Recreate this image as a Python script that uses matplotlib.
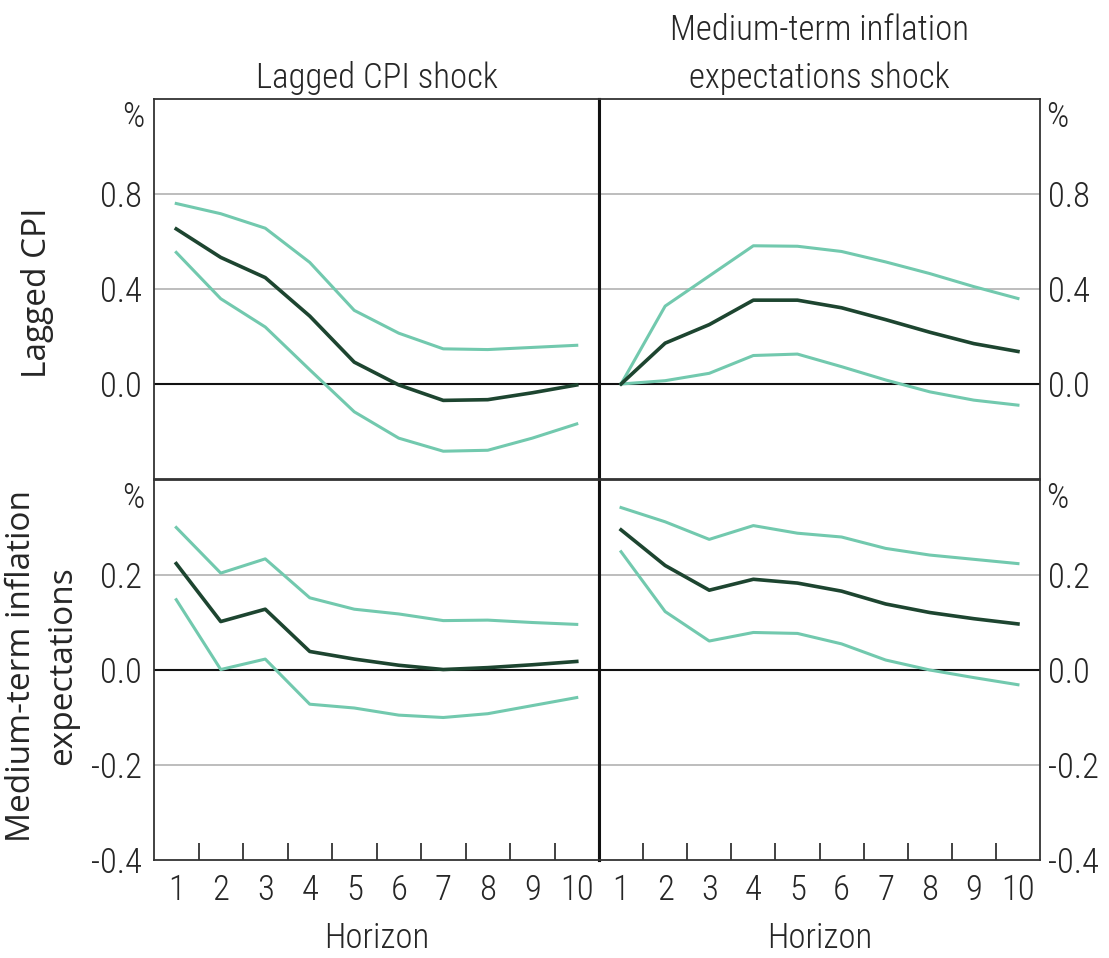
import matplotlib
matplotlib.use("Agg")
import matplotlib.pyplot as plt
from matplotlib import font_manager as fm

entries = fm.fontManager.ttflist
names = {f.name for f in entries}
cands = ["Roboto Condensed", "Open Sans Condensed", "Liberation Sans Narrow",
         "DejaVu Sans Condensed", "Noto Sans Condensed", "Noto Sans Display Condensed"]
FAM = None
STRETCH = "normal"
for n in cands:
    if n in names:
        FAM = n
        break
if FAM is None:
    cond = [f for f in entries if str(f.stretch) in ("condensed", "semi-condensed", "extra-condensed")
            or (isinstance(f.stretch, int) and f.stretch < 500)]
    if cond:
        FAM = cond[0].name
        STRETCH = "condensed"
    else:
        FAM = "DejaVu Sans"
plt.rcParams['font.family'] = [FAM, "DejaVu Sans"]
plt.rcParams['font.stretch'] = STRETCH
WIDE = [n for n in ["Open Sans", "Lato", "DejaVu Sans"] if n in names][:1] + ["DejaVu Sans"]

horizon = [1, 2, 3, 4, 5, 6, 7, 8, 9, 10]

# Lagged CPI response to lagged CPI shock
cpi_cpi_mid = [0.653, 0.533, 0.448, 0.286, 0.092, -0.004, -0.069, -0.066, -0.037, -0.004]
cpi_cpi_hi = [0.760, 0.717, 0.656, 0.512, 0.310, 0.214, 0.148, 0.145, 0.154, 0.163]
cpi_cpi_lo = [0.554, 0.359, 0.240, 0.060, -0.117, -0.228, -0.283, -0.279, -0.228, -0.168]

# Lagged CPI response to medium-term inflation expectations shock
cpi_exp_mid = [0.0, 0.172, 0.250, 0.353, 0.353, 0.321, 0.271, 0.218, 0.170, 0.137]
cpi_exp_hi = [0.0, 0.328, 0.455, 0.582, 0.580, 0.558, 0.514, 0.465, 0.410, 0.360]
cpi_exp_lo = [0.0, 0.014, 0.045, 0.120, 0.126, 0.073, 0.017, -0.033, -0.068, -0.089]

# Medium-term inflation expectations response to lagged CPI shock
exp_cpi_mid = [0.224, 0.102, 0.128, 0.039, 0.023, 0.010, 0.001, 0.005, 0.011, 0.018]
exp_cpi_hi = [0.300, 0.204, 0.234, 0.152, 0.128, 0.118, 0.104, 0.105, 0.100, 0.096]
exp_cpi_lo = [0.148, 0.001, 0.023, -0.072, -0.080, -0.095, -0.100, -0.092, -0.075, -0.058]

# Medium-term inflation expectations response to expectations shock
exp_exp_mid = [0.295, 0.220, 0.168, 0.191, 0.183, 0.166, 0.139, 0.121, 0.108, 0.097]
exp_exp_hi = [0.342, 0.312, 0.275, 0.304, 0.288, 0.280, 0.256, 0.242, 0.233, 0.224]
exp_exp_lo = [0.249, 0.123, 0.061, 0.079, 0.077, 0.055, 0.021, 0.000, -0.016, -0.031]

col_titles = ["Lagged CPI shock", "Medium-term inflation\nexpectations shock"]
row_labels = ["Lagged CPI", "Medium-term inflation\nexpectations"]
top_ticks = [0.0, 0.4, 0.8]
top_ticklabels = ["0.0", "0.4", "0.8"]
bot_ticks = [-0.4, -0.2, 0.0, 0.2]
bot_ticklabels = ["-0.4", "-0.2", "0.0", "0.2"]
xlabel = "Horizon"

TEAL = "#72c9ae"
DARK = "#1d4530"
GRID = "#b8b8b8"
SPINE = "#333333"
TXT = "#262626"
FS = 25
FW = "light"

fig = plt.figure(figsize=(11.09, 9.58), dpi=100)
W, H = 1109, 958
xl = [154 / W, 599 / W]
wid = [445 / W, 441 / W]
yb = [(H - 479) / H, (H - 860) / H]
hei = 380 / H

panels = [
    [(cpi_cpi_mid, cpi_cpi_hi, cpi_cpi_lo), (cpi_exp_mid, cpi_exp_hi, cpi_exp_lo)],
    [(exp_cpi_mid, exp_cpi_hi, exp_cpi_lo), (exp_exp_mid, exp_exp_hi, exp_exp_lo)],
]

for r in range(2):
    for c in range(2):
        ax = fig.add_axes([xl[c], yb[r], wid[c], hei])
        mid, hi, lo = panels[r][c]
        if r == 0:
            ax.set_ylim(-0.4, 1.2)
            ticks, tl = top_ticks, top_ticklabels
        else:
            ax.set_ylim(-0.4, 0.4)
            ticks, tl = bot_ticks, bot_ticklabels
        ax.set_xlim(0.5, 10.5)
        for t in ticks:
            if abs(t) < 1e-9:
                ax.axhline(0, color="#111111", lw=1.5, zorder=2)
            elif t > ax.get_ylim()[0] + 1e-9:
                ax.axhline(t, color=GRID, lw=1.3, zorder=1)
        ax.plot(horizon, hi, color=TEAL, lw=2.2, zorder=3)
        ax.plot(horizon, lo, color=TEAL, lw=2.2, zorder=3)
        ax.plot(horizon, mid, color=DARK, lw=2.6, zorder=4)

        ax.set_yticks(ticks)
        ax.set_yticklabels(tl, fontweight=FW)
        if c == 0:
            ax.yaxis.tick_left()
            ax.tick_params(axis='y', length=0, pad=9, labelsize=FS, labelcolor=TXT)
            ax.text(-0.022, 0.952, "%", transform=ax.transAxes, ha='right', va='center',
                    fontsize=FS, color=TXT, fontweight=FW)
        else:
            ax.yaxis.tick_right()
            ax.tick_params(axis='y', length=0, pad=6, labelsize=FS, labelcolor=TXT)
            ax.text(1.014, 0.952, "%", transform=ax.transAxes, ha='left', va='center',
                    fontsize=FS, color=TXT, fontweight=FW)

        if r == 1:
            ax.set_xticks([h + 0.5 for h in horizon[:-1]])
            ax.set_xticklabels([])
            ax.set_xticks(horizon, minor=True)
            ax.set_xticklabels([str(h) for h in horizon], minor=True, fontweight=FW)
            ax.tick_params(axis='x', which='major', direction='in', length=12, width=1.3,
                           color=SPINE)
            ax.tick_params(axis='x', which='minor', length=0, pad=10, labelsize=FS,
                           labelcolor=TXT)
            ax.set_xlabel(xlabel, fontsize=FS, color=TXT, labelpad=10, fontweight=FW)
        else:
            ax.set_xticks([])
            ax.set_title(col_titles[c], fontsize=FS, color=TXT, pad=8, linespacing=1.55,
                         fontweight=FW)

        for s in ax.spines.values():
            s.set_color(SPINE)
            s.set_linewidth(1.3)
        if c == 0:
            ax.spines['right'].set_color("#111111")
            ax.spines['right'].set_linewidth(2.2)
        else:
            ax.spines['left'].set_color("#111111")
            ax.spines['left'].set_linewidth(2.2)

fig.text(37 / W, (H - 293) / H, row_labels[0], rotation=90, ha='center', va='center',
         fontsize=24, color=TXT, family=WIDE)
fig.text(42 / W, (H - 666) / H, row_labels[1], rotation=90, ha='center', va='center',
         fontsize=24, color=TXT, family=WIDE, linespacing=1.3, multialignment='center')

fig.savefig("out.png", dpi=100)
